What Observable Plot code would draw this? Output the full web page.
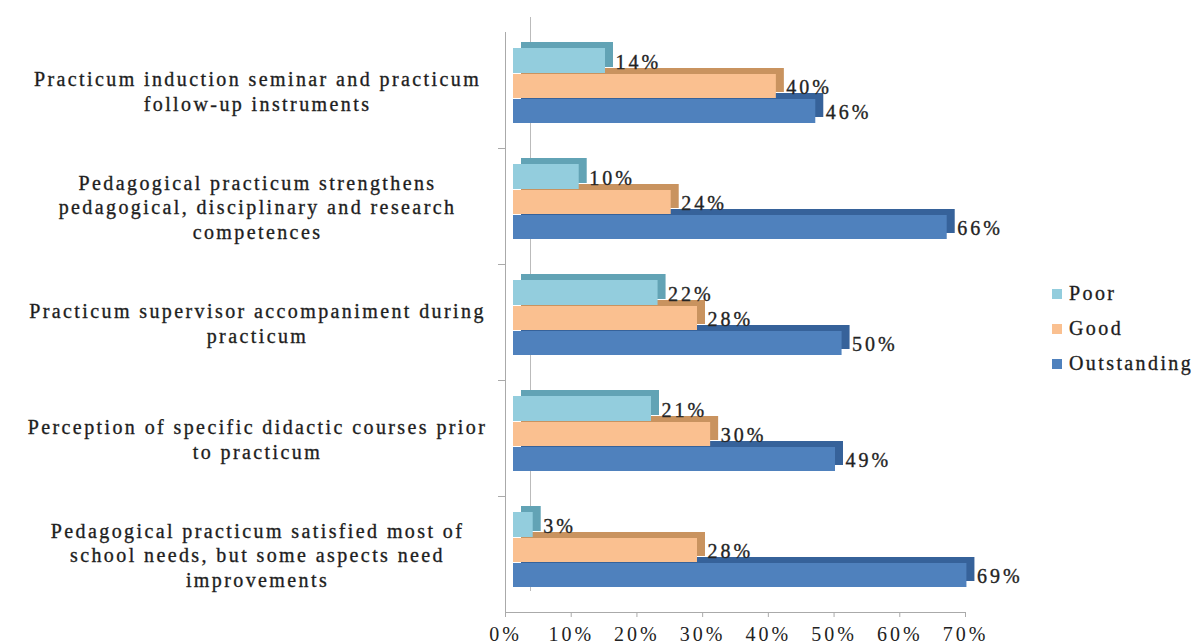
<!DOCTYPE html>
<html>
<head>
<meta charset="utf-8">
<script src="https://cdn.jsdelivr.net/npm/d3@7"></script>
<script src="https://cdn.jsdelivr.net/npm/@observablehq/plot@0.6"></script>
<style>
  html, body { margin: 0; padding: 0; background: #fff; }
  #wrap { position: relative; width: 1197px; height: 641px; overflow: hidden; }
  #wrap svg text { letter-spacing: 2.4px; }
  #wrap svg .vals text, #wrap svg .xaxis text { letter-spacing: 3px; }
  #wrap svg .cats text, #wrap svg .vals text { stroke: #2a2a2a; stroke-width: 0.35px; }
  #legend { position: absolute; left: 1052px; top: 276px; }
  #legend .row { display: flex; align-items: center; height: 35px; font: 20px "Liberation Serif", serif; color: #1a1a1a; letter-spacing: 2.4px; white-space: nowrap; -webkit-text-stroke: 0.35px #2a2a2a; }
  #legend .sw { width: 10px; height: 10px; margin-right: 7px; flex: none; }
</style>
</head>
<body>
<div id="wrap"></div>
<script>
// ---- data ----
const categories = [
  "Practicum induction seminar and practicum follow-up instruments",
  "Pedagogical practicum strengthens pedagogical, disciplinary and research competences",
  "Practicum supervisor accompaniment during practicum",
  "Perception of specific didactic courses prior to practicum",
  "Pedagogical practicum satisfied most of school needs, but some aspects need improvements"
];
const categoryLabels = [
  "Practicum induction seminar and practicum\nfollow-up instruments",
  "Pedagogical practicum strengthens\npedagogical, disciplinary and research\ncompetences",
  "Practicum supervisor accompaniment during\npracticum",
  "Perception of specific didactic courses prior\nto practicum",
  "Pedagogical practicum satisfied most of\nschool needs, but some aspects need\nimprovements"
];
const series = ["Poor", "Good", "Outstanding"];
const poor = [14, 10, 22, 21, 3];
const good = [40, 24, 28, 30, 28];
const outstanding = [46, 66, 50, 49, 69];
const xTicks = [0, 10, 20, 30, 40, 50, 60, 70];

const frontColors = ["#93CDDD", "#FAC090", "#4F81BD"];
const sideColors = ["#62a3b5", "#c9935f", "#36629a"];

const valuesBySeries = [poor, good, outstanding];
const rows = series.map((s, si) =>
  categories.map((c, ci) => ({category: c, series: s, value: valuesBySeries[si][ci]}))
);

// vertical placement of each series bar within its category band (band = 116px)
const insets = [
  {top: 16, bottom: 75},
  {top: 42, bottom: 50},
  {top: 67, bottom: 25}
];
const labelDy = [-28, -3, 22];

const font = '"Liberation Serif", "Times New Roman", serif';

const marks = [];
// wall / floor lines
marks.push(Plot.frame({anchor: "left", dx: 17, dy: -15, insetBottom: 7, stroke: "#bbb"}));
marks.push(Plot.frame({anchor: "left", dx: -8, stroke: "#aaa"}));
marks.push(Plot.frame({anchor: "bottom", dx: -8, stroke: "#aaa"}));
// wall ticks at category boundaries
marks.push(Plot.ruleY(categories.slice(0, -1), {
  y: d => d, dy: 58, dx: -15, insetRight: 453, stroke: "#aaa"
}));

// bars, drawn bottom series first so upper bars cover top faces
for (let si = series.length - 1; si >= 0; si--) {
  marks.push(Plot.barX(rows[si], {
    x: "value", y: "category",
    insetTop: insets[si].top, insetBottom: insets[si].bottom,
    dx: 8, dy: -6, fill: sideColors[si]
  }));
  marks.push(Plot.barX(rows[si], {
    x: "value", y: "category",
    insetTop: insets[si].top, insetBottom: insets[si].bottom,
    fill: frontColors[si]
  }));
}
// value labels
for (let si = 0; si < series.length; si++) {
  marks.push(Plot.text(rows[si], {
    x: "value", y: "category",
    text: d => d.value + "%",
    textAnchor: "start", dx: 10, dy: labelDy[si],
    fontSize: 20, fill: "#222", className: "vals"
  }));
}
// category labels
marks.push(Plot.text(categories, {
  y: d => d,
  text: (d, i) => categoryLabels[i],
  frameAnchor: "left", textAnchor: "middle",
  dx: -256, lineHeight: 1.22,
  fontSize: 20, fill: "#1a1a1a", className: "cats"
}));
// x axis
marks.push(Plot.axisX(xTicks, {
  anchor: "bottom", dx: -8, tickSize: 5, tickPadding: 9, label: null,
  tickFormat: d => d + "%", fontSize: 20, stroke: "#aaa", color: "#222",
  className: "xaxis"
}));

const chart = Plot.plot({
  width: 1197,
  height: 641,
  marginLeft: 513,
  marginRight: 224,
  marginTop: 32,
  marginBottom: 29,
  style: {fontFamily: font, background: "#fff"},
  x: {domain: [0, 70], axis: null},
  y: {domain: categories, padding: 0, axis: null},
  marks
});
document.getElementById("wrap").appendChild(chart);

// legend
const legend = document.createElement("div");
legend.id = "legend";
series.forEach((s, i) => {
  const row = document.createElement("div");
  row.className = "row";
  const sw = document.createElement("span");
  sw.className = "sw";
  sw.style.background = frontColors[i];
  row.appendChild(sw);
  row.appendChild(document.createTextNode(s));
  legend.appendChild(row);
});
document.getElementById("wrap").appendChild(legend);
</script>
</body>
</html>
